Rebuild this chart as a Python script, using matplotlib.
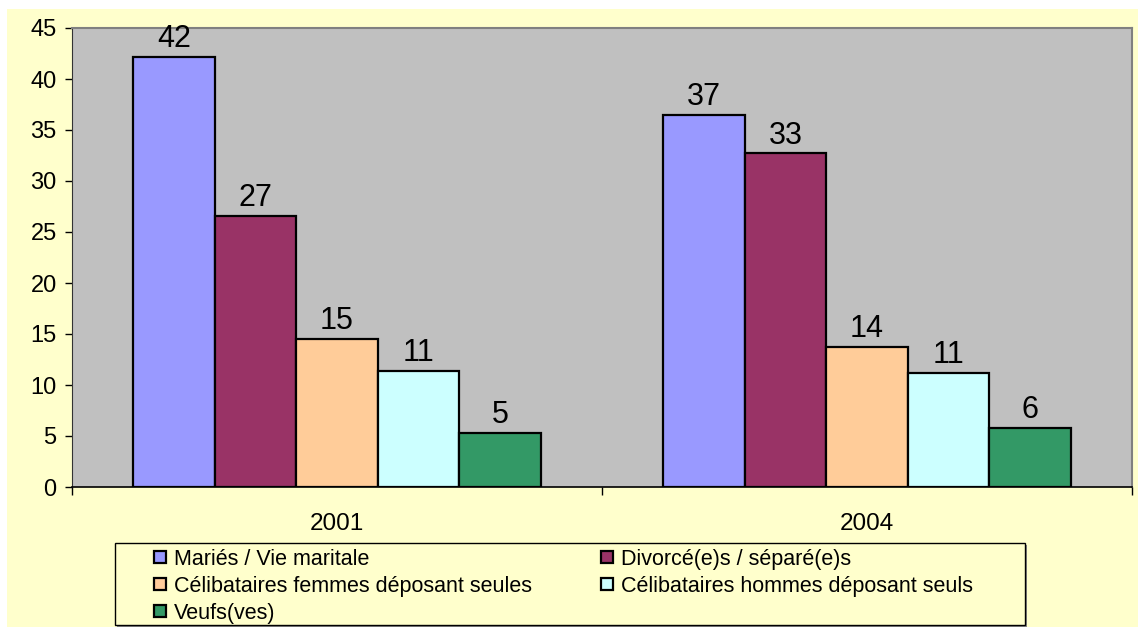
import numpy as np
import matplotlib
matplotlib.use('Agg')
import matplotlib.pyplot as plt
from matplotlib.patches import Rectangle
from matplotlib.lines import Line2D

plt.rcParams['font.family'] = ['Liberation Sans', 'DejaVu Sans']

# données
years = ['2001', '2004']
categories = ['Mariés / Vie maritale',
              'Divorcé(e)s / séparé(e)s',
              'Célibataires femmes déposant seules',
              'Célibataires hommes déposant seuls',
              'Veufs(ves)']
maries = [42.2, 36.5]
divorces = [26.6, 32.7]
celib_femmes = [14.5, 13.7]
celib_hommes = [11.4, 11.2]
veufs = [5.3, 5.8]
series = [maries, divorces, celib_femmes, celib_hommes, veufs]
colors = ['#9999FF', '#993366', '#FFCC99', '#CCFFFF', '#339966']

W, H = 1138, 627
fig = plt.figure(figsize=(W / 100, H / 100), dpi=100)
fig.patch.set_facecolor('white')
# fond jaune
fig.add_artist(Rectangle((7 / W, 0), 1 - 7 / W, 1 - 9 / H, transform=fig.transFigure,
                         facecolor='#FFFFCC', edgecolor='none', zorder=-2))

ax = fig.add_axes([72 / W, 1 - 487 / H, 1060 / W, 459 / H])
ax.set_facecolor('#C0C0C0')

x = np.arange(len(years))
w = 0.154
for i, (vals, c) in enumerate(zip(series, colors)):
    pos = x + (i - 2) * w
    ax.bar(pos, vals, width=w, color=c, edgecolor='black', linewidth=1.6, zorder=3)
    for px, v in zip(pos, vals):
        ax.annotate(f"{int(v + 0.5)}", (px, v), xytext=(0, 2), textcoords='offset points',
                    ha='center', va='bottom', fontsize=22, zorder=4)

ax.set_xlim(-0.5, 1.5)
ax.set_ylim(0, 45)
ax.set_yticks(range(0, 50, 5))
ax.tick_params(axis='y', labelsize=17, length=5, width=1, pad=6, direction='out')
ax.set_xticks([-0.5, 0.5, 1.5])
ax.set_xticklabels([])
ax.set_xticks(x, minor=True)
ax.set_xticklabels(years, minor=True)
ax.tick_params(axis='x', which='major', length=6, width=1, direction='out')
ax.tick_params(axis='x', which='minor', length=0, labelsize=17.5, pad=19)

for s in ['top', 'right']:
    ax.spines[s].set_color('#808080')
    ax.spines[s].set_linewidth(1.5)
ax.spines['left'].set_color('#333333')
ax.spines['bottom'].set_color('black')
ax.spines['bottom'].set_linewidth(1.2)

# légende
fig.add_artist(Rectangle((117 / W, 1 - 627 / H), 910 / W, 82 / H, transform=fig.transFigure,
                         facecolor='#888888', edgecolor='none', zorder=1))
fig.add_artist(Rectangle((115 / W, 1 - 625 / H), 910 / W, 82 / H, transform=fig.transFigure,
                         facecolor='#FFFFCC', edgecolor='black', linewidth=1, zorder=1))
handles = [Line2D([], [], marker='s', linestyle='', markersize=8.5, markerfacecolor=c,
                  markeredgecolor='black', markeredgewidth=1.6) for c in colors]
order = [0, 2, 4, 1, 3]
fig.legend([handles[k] for k in order], [categories[k] for k in order],
           ncol=2, loc='upper left', bbox_to_anchor=(152 / W, 1 - 549 / H),
           frameon=False, fontsize=15.5, handlelength=0.7, handletextpad=0.3,
           labelspacing=0.27, columnspacing=3.15, borderpad=0, borderaxespad=0)

fig.savefig('out.png', dpi=100)
